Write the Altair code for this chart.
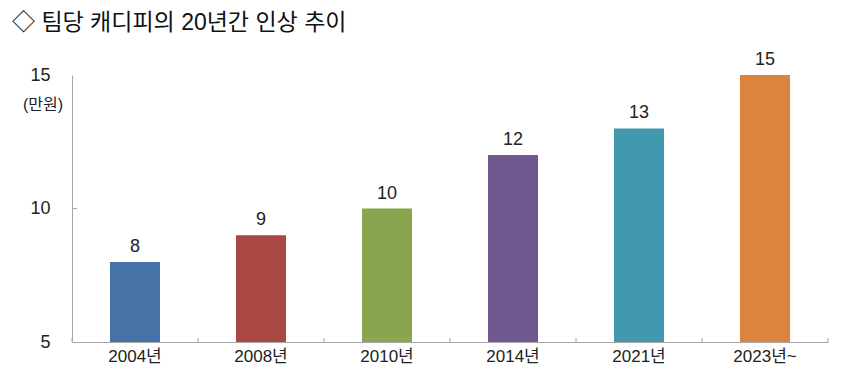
import altair as alt
import pandas as pd

years = ["2004년", "2008년", "2010년", "2014년", "2021년", "2023년~"]
fees = [8, 9, 10, 12, 13, 15]
colors = ["#4572A7", "#AA4643", "#89A54E", "#71588F", "#4198AF", "#DB843D"]
title_text = "◇ 팀당 캐디피의 20년간 인상 추이"
unit_text = "(만원)"
y_ticks = [5, 10, 15]

df = pd.DataFrame({"year": years, "fee": fees, "color": colors})
FONT = "Liberation Sans, Noto Sans CJK KR"
AXIS_COLOR = "#A6A6A6"

xscale = alt.Scale(domain=years, paddingInner=0.603, paddingOuter=0.3015)
yscale = alt.Scale(domain=[5, 15], nice=False, zero=False)

base = alt.Chart(df)

bars = base.mark_bar().encode(
    x=alt.X("year:N", scale=xscale, sort=years,
            axis=alt.Axis(title=None, labelAngle=0, ticks=False, domainColor=AXIS_COLOR,
                          labelFont=FONT, labelFontSize=17, labelColor="#222222",
                          labelPadding=6)),
    y=alt.Y("fee:Q", scale=yscale,
            axis=alt.Axis(title=None, values=y_ticks, grid=False, ticks=False,
                          domainColor=AXIS_COLOR, labelFont=FONT, labelFontSize=18,
                          labelColor="#222222", labelPadding=22)),
    y2=alt.datum(5),
    color=alt.Color("color:N", scale=None),
)

labels = base.mark_text(font=FONT, fontSize=18, color="#222222", dy=-15).encode(
    x=alt.X("year:N", scale=xscale, sort=years),
    y=alt.Y("fee:Q", scale=yscale),
    text=alt.Text("fee:Q"),
)

xticks = base.mark_rule(color=AXIS_COLOR, xOffset=-63).encode(
    x=alt.X("year:N", scale=xscale, sort=years),
    y=alt.value(263), y2=alt.value(267),
)
last_tick = alt.Chart(pd.DataFrame({"year": [years[-1]]})).mark_rule(
    color=AXIS_COLOR, xOffset=63).encode(
    x=alt.X("year:N", scale=xscale, sort=years),
    y=alt.value(263), y2=alt.value(267),
)
ytick = alt.Chart(pd.DataFrame({"v": [10]})).mark_rule(color=AXIS_COLOR).encode(
    y=alt.Y("v:Q", scale=yscale), x=alt.value(0), x2=alt.value(5),
)
unit = alt.Chart(pd.DataFrame({"v": [15], "t": [unit_text]})).mark_text(
    font=FONT, fontSize=16, color="#222222", align="right", dy=30).encode(
    y=alt.Y("v:Q", scale=yscale), x=alt.value(-9), text="t:N",
)

chart = alt.layer(bars, labels, xticks, last_tick, ytick, unit).properties(
    width=756, height=267,
    background="white",
    autosize=alt.AutoSizeParams(type="none"),
    padding={"left": 64, "top": 67, "right": 7, "bottom": 37},
    title=alt.TitleParams(title_text, anchor="start", frame="group", font=FONT,
                          fontSize=23, fontWeight="normal", color="#111111",
                          dx=-60, offset=16),
).configure_view(stroke=None)

chart.save("out.html", embed_options={"renderer": "svg", "actions": False})
